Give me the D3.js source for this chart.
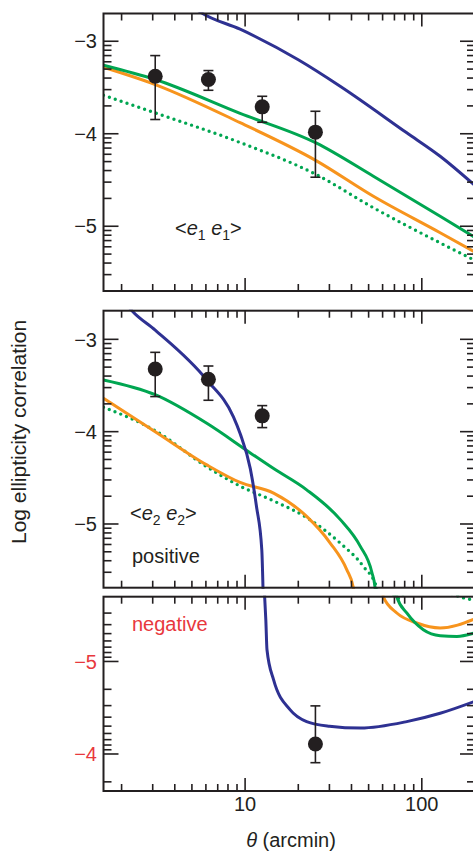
<!DOCTYPE html>
<html>
<head>
<meta charset="utf-8">
<script src="https://d3js.org/d3.v7.min.js"></script>
<style>
  body { margin: 0; background: #fff; }
  text { font-family: "Liberation Sans", Arial, Helvetica, sans-serif; fill: #231f20; }
</style>
</head>
<body>
<script>
// 1. data (theta in arcmin, values are log10 of |correlation|)
const thetaE1 = [3.1, 6.2, 12.5, 25];
const e1Value = [-3.378, -3.414, -3.709, -3.983];
const e1Upper = [-3.155, -3.317, -3.595, -3.757];
const e1Lower = [-3.846, -3.53, -3.876, -4.47];

const thetaE2Pos = [3.1, 6.2, 12.5];
const e2PosValue = [-3.321, -3.432, -3.829];
const e2PosUpper = [-3.141, -3.289, -3.718];
const e2PosLower = [-3.62, -3.66, -3.956];

const thetaE2Neg = [25];
const e2NegValue = [-4.108];
const e2NegUpper = [-4.52];
const e2NegLower = [-3.906];

// model curves, [theta, log value]
const e1Blue = [[5.0, -2.62], [5.69, -2.695], [9.37, -2.87], [20, -3.2], [34.5, -3.486], [82.2, -3.99], [127, -4.243], [200, -4.56]];
const e1Green = [[1.58, -3.259], [3.1, -3.414], [9.37, -3.78], [25.2, -4.099], [53.2, -4.459], [127, -4.892], [200, -5.12]];
const e1Orange = [[1.58, -3.281], [3.1, -3.468], [9.37, -3.88], [25.2, -4.29], [53.2, -4.676], [127, -5.07], [200, -5.28]];
const e1Dotted = [[1.58, -3.584], [3.1, -3.774], [9.37, -4.095], [25.2, -4.44], [53.2, -4.8], [127, -5.18], [200, -5.37]];

const e2PosBlue = [[2.0, -2.55], [2.29, -2.69], [3.1, -2.9], [6.07, -3.44], [8.59, -3.84], [9.37, -4.02], [10.7, -4.4], [11.6, -4.81], [12.43, -5.28], [12.7, -5.9]];
const e2PosGreen = [[1.58, -3.44], [3.1, -3.6], [6.07, -3.91], [10.7, -4.23], [14.5, -4.4], [22.3, -4.63], [34.5, -4.95], [44.8, -5.24], [52.1, -5.52], [54.4, -5.69], [55.2, -6.1]];
const e2PosOrange = [[1.58, -3.638], [3.1, -4.0], [6.07, -4.36], [9.37, -4.55], [14.5, -4.665], [22.3, -4.918], [30.3, -5.206], [37.6, -5.495], [41, -5.69], [41.6, -6.1]];
const e2PosDotted = [[1.58, -3.735], [3.1, -3.99], [6.07, -4.38], [9.37, -4.59], [14.5, -4.75], [22.3, -4.93], [34.5, -5.206], [46.7, -5.46], [55.6, -5.69], [56.3, -6.1]];

const e2NegBlue = [[12.6, -6.2], [12.9, -5.7], [13.1, -5.45], [13.3, -5.127], [14.5, -4.8], [18, -4.477], [22.3, -4.35], [30, -4.3], [45, -4.28], [82.2, -4.35], [127, -4.44], [200, -4.57]];
const e2NegGreen = [[71.5, -6.1], [72.2, -5.7], [82.2, -5.524], [102, -5.343], [127, -5.278], [158, -5.27], [200, -5.31]];
const e2NegOrange = [[59.5, -6.1], [60.5, -5.7], [72.2, -5.524], [93.7, -5.416], [127, -5.362], [200, -5.46]];
const e2NegDotted = [[56.5, -6.5], [68, -5.75], [73, -5.68], [80, -5.74], [130, -5.76], [170, -5.69], [200, -5.66]];

const xMajorTicks = [10, 100];
const xTickLabels = ['10', '100'];

// 2. sizes
const width = 473, height = 851;
const left = 103.5, right = 475;
const blue = '#2e3192', green = '#00a651', orange = '#f7941d', red = '#e8383d', ink = '#231f20';

const svg = d3.select('body')
  .append('svg')
  .attr('width', width)
  .attr('height', height);

const x = d3.scaleLog().domain([1.58, 200]).range([left, right]);

const panels = [
  {
    id: 'p1', top: 13.5, bottom: 291, y: d3.scaleLinear().domain([-5.7, -2.7]).range([291, 13.5]),
    labels: [-3, -4, -5], labelColor: ink,
    curves: [[e1Blue, blue, false], [e1Dotted, green, true], [e1Orange, orange, false], [e1Green, green, false]],
    points: [thetaE1, e1Value, e1Upper, e1Lower]
  },
  {
    id: 'p2', top: 310.7, bottom: 587.7, y: d3.scaleLinear().domain([-5.69, -2.69]).range([587.7, 310.7]),
    labels: [-3, -4, -5], labelColor: ink,
    curves: [[e2PosDotted, green, true], [e2PosOrange, orange, false], [e2PosGreen, green, false], [e2PosBlue, blue, false]],
    points: [thetaE2Pos, e2PosValue, e2PosUpper, e2PosLower]
  },
  {
    id: 'p3', top: 596.7, bottom: 791, y: d3.scaleLinear().domain([-5.7, -3.6]).range([596.7, 791]),
    labels: [-5, -4], labelColor: red,
    curves: [[e2NegDotted, green, true], [e2NegOrange, orange, false], [e2NegGreen, green, false], [e2NegBlue, blue, false]],
    points: [thetaE2Neg, e2NegValue, e2NegUpper, e2NegLower]
  }
];

// x tick positions 2..9, 10..90, 100, 200
const xTicks = [];
[1, 10, 100].forEach(dec => d3.range(1, 10).forEach(k => {
  const v = k * dec;
  if (v >= 2 && v <= 200) xTicks.push(v);
}));

const fmt = v => '\u2212' + Math.abs(v);

panels.forEach(p => {
  const g = svg.append('g');
  const y = p.y;
  const [d0, d1] = y.domain();
  const lo = Math.min(d0, d1), hi = Math.max(d0, d1);

  // clip for curves
  svg.append('clipPath').attr('id', 'clip-' + p.id)
    .append('rect')
    .attr('x', left).attr('y', p.top - 1)
    .attr('width', right - left).attr('height', p.bottom - p.top + 2);

  // 3. curves
  const line = d3.line()
    .x(d => x(d[0]))
    .y(d => y(d[1]))
    .curve(d3.curveMonotoneX);

  const cg = g.append('g').attr('clip-path', `url(#clip-${p.id})`);
  p.curves.forEach(([data, color, dotted]) => {
    cg.append('path')
      .attr('d', line(data))
      .attr('fill', 'none')
      .attr('stroke', color)
      .attr('stroke-width', dotted ? 3.4 : 3)
      .attr('stroke-linecap', dotted ? 'round' : 'butt')
      .attr('stroke-dasharray', dotted ? '0 6.2' : null);
  });

  // 4. frame and ticks
  g.append('rect')
    .attr('x', left).attr('y', p.top)
    .attr('width', right - left).attr('height', p.bottom - p.top)
    .attr('fill', 'none').attr('stroke', ink).attr('stroke-width', 2);

  xTicks.forEach(t => {
    const len = xMajorTicks.includes(t) ? 13 : 7;
    g.append('line').attr('x1', x(t)).attr('x2', x(t))
      .attr('y1', p.top).attr('y2', p.top + len)
      .attr('stroke', ink).attr('stroke-width', 1.6);
    g.append('line').attr('x1', x(t)).attr('x2', x(t))
      .attr('y1', p.bottom).attr('y2', p.bottom - len)
      .attr('stroke', ink).attr('stroke-width', 1.6);
  });

  const yTicks = [];
  d3.range(-7, -1).forEach(n => d3.range(1, 10).forEach(k => {
    const v = n + Math.log10(k);
    if (v > lo + 0.01 && v < hi - 0.01) yTicks.push([v, k === 1]);
  }));
  yTicks.forEach(([v, major]) => {
    const len = major ? 15 : 8;
    g.append('line').attr('x1', left).attr('x2', left + len)
      .attr('y1', y(v)).attr('y2', y(v))
      .attr('stroke', ink).attr('stroke-width', 1.6);
    g.append('line').attr('x1', right).attr('x2', right - len)
      .attr('y1', y(v)).attr('y2', y(v))
      .attr('stroke', ink).attr('stroke-width', 1.6);
  });

  g.selectAll('.ylab')
    .data(p.labels)
    .join('text')
    .attr('x', 97)
    .attr('y', d => y(d))
    .attr('dy', '0.36em')
    .attr('text-anchor', 'end')
    .style('font-size', '20px')
    .style('fill', p.labelColor)
    .text(fmt);

  // 5. data points with error bars
  const [th, val, up, dn] = p.points;
  th.forEach((t, i) => {
    const cx = x(t);
    g.append('line').attr('x1', cx).attr('x2', cx)
      .attr('y1', y(up[i])).attr('y2', y(dn[i]))
      .attr('stroke', ink).attr('stroke-width', 1.6);
    [up[i], dn[i]].forEach(e => {
      g.append('line').attr('x1', cx - 5).attr('x2', cx + 5)
        .attr('y1', y(e)).attr('y2', y(e))
        .attr('stroke', ink).attr('stroke-width', 1.6);
    });
    g.append('circle').attr('cx', cx).attr('cy', y(val[i])).attr('r', 7.5).attr('fill', ink);
  });
});

// 6. labels
function pairLabel(xp, yp, sub) {
  const t = svg.append('text').attr('x', xp).attr('y', yp).style('font-size', '20px');
  t.append('tspan').text('<');
  t.append('tspan').style('font-style', 'italic').text('e');
  t.append('tspan').attr('dy', 5).style('font-size', '14px').text(sub);
  t.append('tspan').attr('dy', -5).text(' ');
  t.append('tspan').style('font-style', 'italic').text('e');
  t.append('tspan').attr('dy', 5).style('font-size', '14px').text(sub);
  t.append('tspan').attr('dy', -5).text('>');
}
pairLabel(175, 235, '1');
pairLabel(130, 520, '2');

svg.append('text').attr('x', 132).attr('y', 563).style('font-size', '20px').text('positive');
svg.append('text').attr('x', 132).attr('y', 631).style('font-size', '20px').style('fill', red).text('negative');

svg.selectAll('.xlab')
  .data(xMajorTicks)
  .join('text')
  .attr('x', d => x(d))
  .attr('y', 811)
  .attr('text-anchor', 'middle')
  .style('font-size', '20px')
  .text((d, i) => xTickLabels[i]);

const xt = svg.append('text')
  .attr('x', 291).attr('y', 847)
  .attr('text-anchor', 'middle')
  .style('font-size', '20px');
xt.append('tspan').style('font-style', 'italic').text('\u03b8');
xt.append('tspan').text(' (arcmin)');

svg.append('text')
  .attr('transform', 'translate(26, 432) rotate(-90)')
  .attr('text-anchor', 'middle')
  .style('font-size', '21px')
  .text('Log ellipticity correlation');
</script>
</body>
</html>
